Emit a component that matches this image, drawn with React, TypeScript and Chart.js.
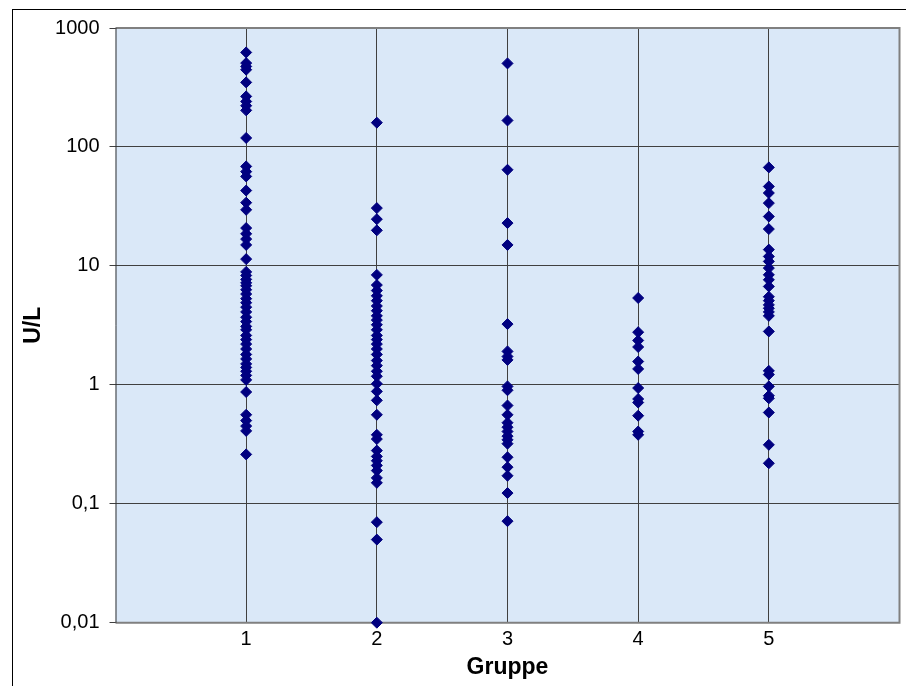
import React, { useEffect, useRef } from "react";
import { Chart, registerables } from "chart.js";

Chart.register(...registerables);

// ---- data ----
const groups = [1, 2, 3, 4, 5];

const group1 = [
  623, 507, 475, 446, 349, 266, 241, 222, 203, 119, 68.6, 62, 56.5, 43, 34, 29.6,
  20.8, 18.6, 16.8, 15, 11.4, 8.9, 8.3, 7.7, 7.2, 6.8, 6.3, 5.8, 5.3, 4.9, 4.5,
  4.1, 3.7, 3.4, 3.1, 2.9, 2.6, 2.4, 2.2, 2.0, 1.8, 1.65, 1.5, 1.4, 1.3, 1.2, 1.1,
  0.87, 0.56, 0.5, 0.45, 0.41, 0.26,
];
const group2 = [
  160, 30.6, 24.7, 19.9, 8.4, 6.9, 6.2, 5.6, 5.1, 4.6, 4.2, 3.8, 3.5, 3.2, 2.9,
  2.6, 2.4, 2.2, 2.0, 1.8, 1.6, 1.45, 1.3, 1.18, 1.02, 0.88, 0.74, 0.56, 0.38,
  0.35, 0.28, 0.25, 0.23, 0.21, 0.19, 0.165, 0.15, 0.07, 0.05, 0.01,
];
const group3 = [
  504, 167, 64.3, 22.9, 15.0, 3.24, 1.91, 1.73, 1.62, 0.97, 0.9, 0.67, 0.56, 0.48,
  0.44, 0.405, 0.37, 0.345, 0.32, 0.246, 0.203, 0.172, 0.123, 0.0714,
];
const group4 = [5.37, 2.77, 2.36, 2.08, 1.57, 1.36, 0.94, 0.76, 0.71, 0.55, 0.405, 0.38];
const group5 = [
  67.3, 46.5, 41, 33.7, 26, 20.4, 13.7, 12, 10.9, 9.58, 8.41, 7.64, 6.71, 5.5, 5.1,
  4.7, 4.4, 4.1, 3.8, 2.81, 1.31, 1.22, 0.97, 0.81, 0.77, 0.585, 0.313, 0.219,
];
const groupValues = [group1, group2, group3, group4, group5];

const yTickValues = [0.01, 0.1, 1, 10, 100, 1000];
const yTickLabels = ["0,01", "0,1", "1", "10", "100", "1000"];
const xTickValues = [1, 2, 3, 4, 5];
const xTickLabels = ["1", "2", "3", "4", "5"];

const xTitle = "Gruppe";
const yTitle = "U/L";

const FONT = "'Liberation Sans', Arial, sans-serif";

export default function App() {
  const ref = useRef<HTMLCanvasElement | null>(null);

  useEffect(() => {
    const canvas = ref.current;
    if (!canvas) return;

    const points: { x: number; y: number }[] = [];
    groups.forEach((g, i) => {
      groupValues[i].forEach((v) => points.push({ x: g, y: v }));
    });

    const framePlugin = {
      id: "frame",
      beforeDraw(chart: any) {
        const { ctx, chartArea: a } = chart;
        ctx.save();
        ctx.fillStyle = "#ffffff";
        ctx.fillRect(0, 0, chart.width, chart.height);
        ctx.strokeStyle = "#000000";
        ctx.lineWidth = 1;
        ctx.strokeRect(12.5, 9.5, 2000, 2000);
        ctx.fillStyle = "rgb(218,232,248)";
        ctx.fillRect(a.left, a.top, a.right - a.left, a.bottom - a.top);
        ctx.restore();
      },
      beforeDatasetsDraw(chart: any) {
        const { ctx, chartArea: a } = chart;
        ctx.save();
        ctx.strokeStyle = "#808080";
        ctx.lineWidth = 2;
        ctx.beginPath();
        ctx.moveTo(a.left, a.top);
        ctx.lineTo(a.right, a.top);
        ctx.lineTo(a.right, a.bottom);
        ctx.lineTo(a.left, a.bottom);
        ctx.stroke();
        ctx.strokeStyle = "#303030";
        ctx.lineWidth = 1;
        ctx.beginPath();
        ctx.moveTo(a.left + 0.5, a.top);
        ctx.lineTo(a.left + 0.5, a.bottom);
        ctx.stroke();
        ctx.restore();
      },
    };

    const chart = new Chart(canvas, {
      type: "scatter",
      data: {
        datasets: [
          {
            data: points,
            pointStyle: "rectRot",
            pointRadius: 5.5,
            pointBorderWidth: 1,
            backgroundColor: "#000080",
            borderColor: "#000080",
            clip: false as any,
          },
        ],
      },
      plugins: [framePlugin],
      options: {
        responsive: false,
        animation: false,
        devicePixelRatio: 1,
        layout: { padding: { top: 28, right: 6.5, left: 0, bottom: 0 } },
        plugins: {
          legend: { display: false },
          tooltip: { enabled: false },
        },
        scales: {
          x: {
            type: "linear",
            position: "bottom",
            min: 0,
            max: 6,
            afterBuildTicks: (s: any) => {
              s.ticks = xTickValues.map((v) => ({ value: v }));
            },
            afterFit: (s: any) => {
              s.height = 63.3;
            },
            ticks: {
              autoSkip: false,
              maxRotation: 0,
              padding: 5,
              color: "#000000",
              font: { family: FONT, size: 20 },
              callback: (v: any) => {
                const i = xTickValues.indexOf(Number(v));
                return i >= 0 ? xTickLabels[i] : "";
              },
            },
            grid: { color: "#404040", lineWidth: 1, drawTicks: false },
            border: { display: false },
            title: {
              display: true,
              text: xTitle,
              color: "#000000",
              font: { family: FONT, size: 23, weight: "bold" },
              padding: { top: 0, bottom: 5 },
            },
          },
          y: {
            type: "logarithmic",
            min: 0.01,
            max: 1000,
            afterBuildTicks: (s: any) => {
              s.ticks = yTickValues.map((v) => ({ value: v }));
            },
            afterFit: (s: any) => {
              s.width = 115.5;
            },
            ticks: {
              autoSkip: false,
              padding: 10,
              color: "#000000",
              font: { family: FONT, size: 20 },
              callback: (v: any) => {
                const i = yTickValues.findIndex((t) => Math.abs(t - Number(v)) < t * 1e-6);
                return i >= 0 ? yTickLabels[i] : "";
              },
            },
            grid: { color: "#404040", lineWidth: 1, drawTicks: true, tickLength: 6 },
            border: { display: false },
            title: {
              display: true,
              text: yTitle,
              color: "#000000",
              font: { family: FONT, size: 23, weight: "bold" },
              padding: { top: 20, bottom: 0 },
            },
          },
        },
      } as any,
    });

    return () => chart.destroy();
  }, []);

  return (
    <div style={{ position: "fixed", left: 0, top: 0, width: 906, height: 686 }}>
      <canvas ref={ref} width={906} height={686} style={{ width: 906, height: 686 }} />
    </div>
  );
}
